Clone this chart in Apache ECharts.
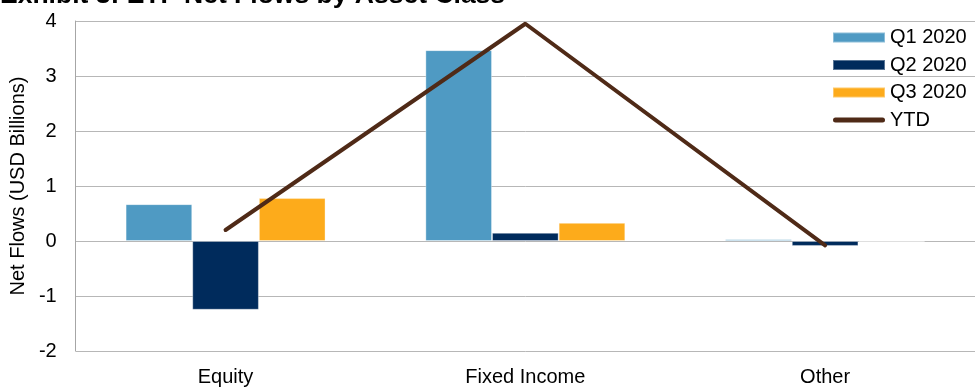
<!DOCTYPE html>
<html><head><meta charset="utf-8">
<script src="https://cdn.jsdelivr.net/npm/echarts@6/dist/echarts.min.js"></script>
<style>html,body{margin:0;padding:0;background:#fff}#c{width:977px;height:387px}</style>
</head><body><div id="c"></div>
<script>
const categories = ["Equity", "Fixed Income", "Other"];
const q1 = [0.67, 3.47, 0.03];
const q2 = [-1.25, 0.15, -0.09];
const q3 = [0.78, 0.33, -0.02];
const ytd = [0.20, 3.95, -0.08];
const seriesNames = ["Q1 2020", "Q2 2020", "Q3 2020", "YTD"];
const yTicks = [-2, -1, 0, 1, 2, 3, 4];
const colors = ["#4F9AC3", "#002B5C", "#FDAB1B", "#4F2A17"];
const FONT = "Liberation Sans, Arial, sans-serif";

const chart = echarts.init(document.getElementById('c'), null, {renderer: 'canvas'});
const barStyle = (c) => ({color: c, borderColor: 'rgba(255,255,255,0.35)', borderWidth: 1});
const lineIcon = 'path://M2.5,0 L49.5,0 A2.5,2.5 0 0 1 49.5,5 L2.5,5 A2.5,2.5 0 0 1 2.5,0 Z';
chart.setOption({
  animation: false,
  textStyle: {fontFamily: FONT},
  graphic: [{
    type: 'text', left: 0, top: -17.5,
    style: {text: 'Exhibit 3: ETF Net Flows by Asset Class', font: 'bold 26.5px ' + FONT, fill: '#000'}
  }],
  grid: {left: 74, right: 2, top: 21, bottom: 36, containLabel: false},
  legend: {
    orient: 'vertical', left: 827, top: 21.5,
    itemWidth: 52, itemHeight: 10, itemGap: 5.5,
    textStyle: {fontSize: 20, color: '#000', lineHeight: 22, fontFamily: FONT},
    data: seriesNames.map((n, i) => i < 3 ? {name: n, icon: 'rect'} : {name: n, icon: lineIcon})
  },
  xAxis: {
    type: 'category', data: categories,
    axisLine: {show: false}, axisTick: {show: false},
    axisLabel: {fontSize: 20, color: '#000', margin: 16, fontFamily: FONT}
  },
  yAxis: {
    type: 'value', min: yTicks[0], max: yTicks[yTicks.length - 1], interval: 1,
    name: 'Net Flows (USD Billions)', nameLocation: 'middle', nameGap: 39, nameRotate: 90,
    nameTextStyle: {fontSize: 20, color: '#000', fontFamily: FONT},
    axisLine: {show: true, lineStyle: {color: '#A6A6A6'}},
    axisTick: {show: false},
    axisLabel: {fontSize: 20, color: '#000', margin: 19, fontFamily: FONT},
    splitLine: {lineStyle: {color: '#B7B7B7', width: 1}}
  },
  series: [
    {name: seriesNames[0], type: 'bar', data: q1, barGap: '0%', barCategoryGap: '33.3%', itemStyle: barStyle(colors[0])},
    {name: seriesNames[1], type: 'bar', data: q2, barGap: '0%', barCategoryGap: '33.3%', itemStyle: barStyle(colors[1])},
    {name: seriesNames[2], type: 'bar', data: q3, barGap: '0%', barCategoryGap: '33.3%', itemStyle: barStyle(colors[2])},
    {name: seriesNames[3], type: 'line', data: ytd, symbol: 'none', z: 5,
     lineStyle: {color: colors[3], width: 4, cap: 'round', join: 'round'}, itemStyle: {color: colors[3]}}
  ]
});
</script></body></html>
